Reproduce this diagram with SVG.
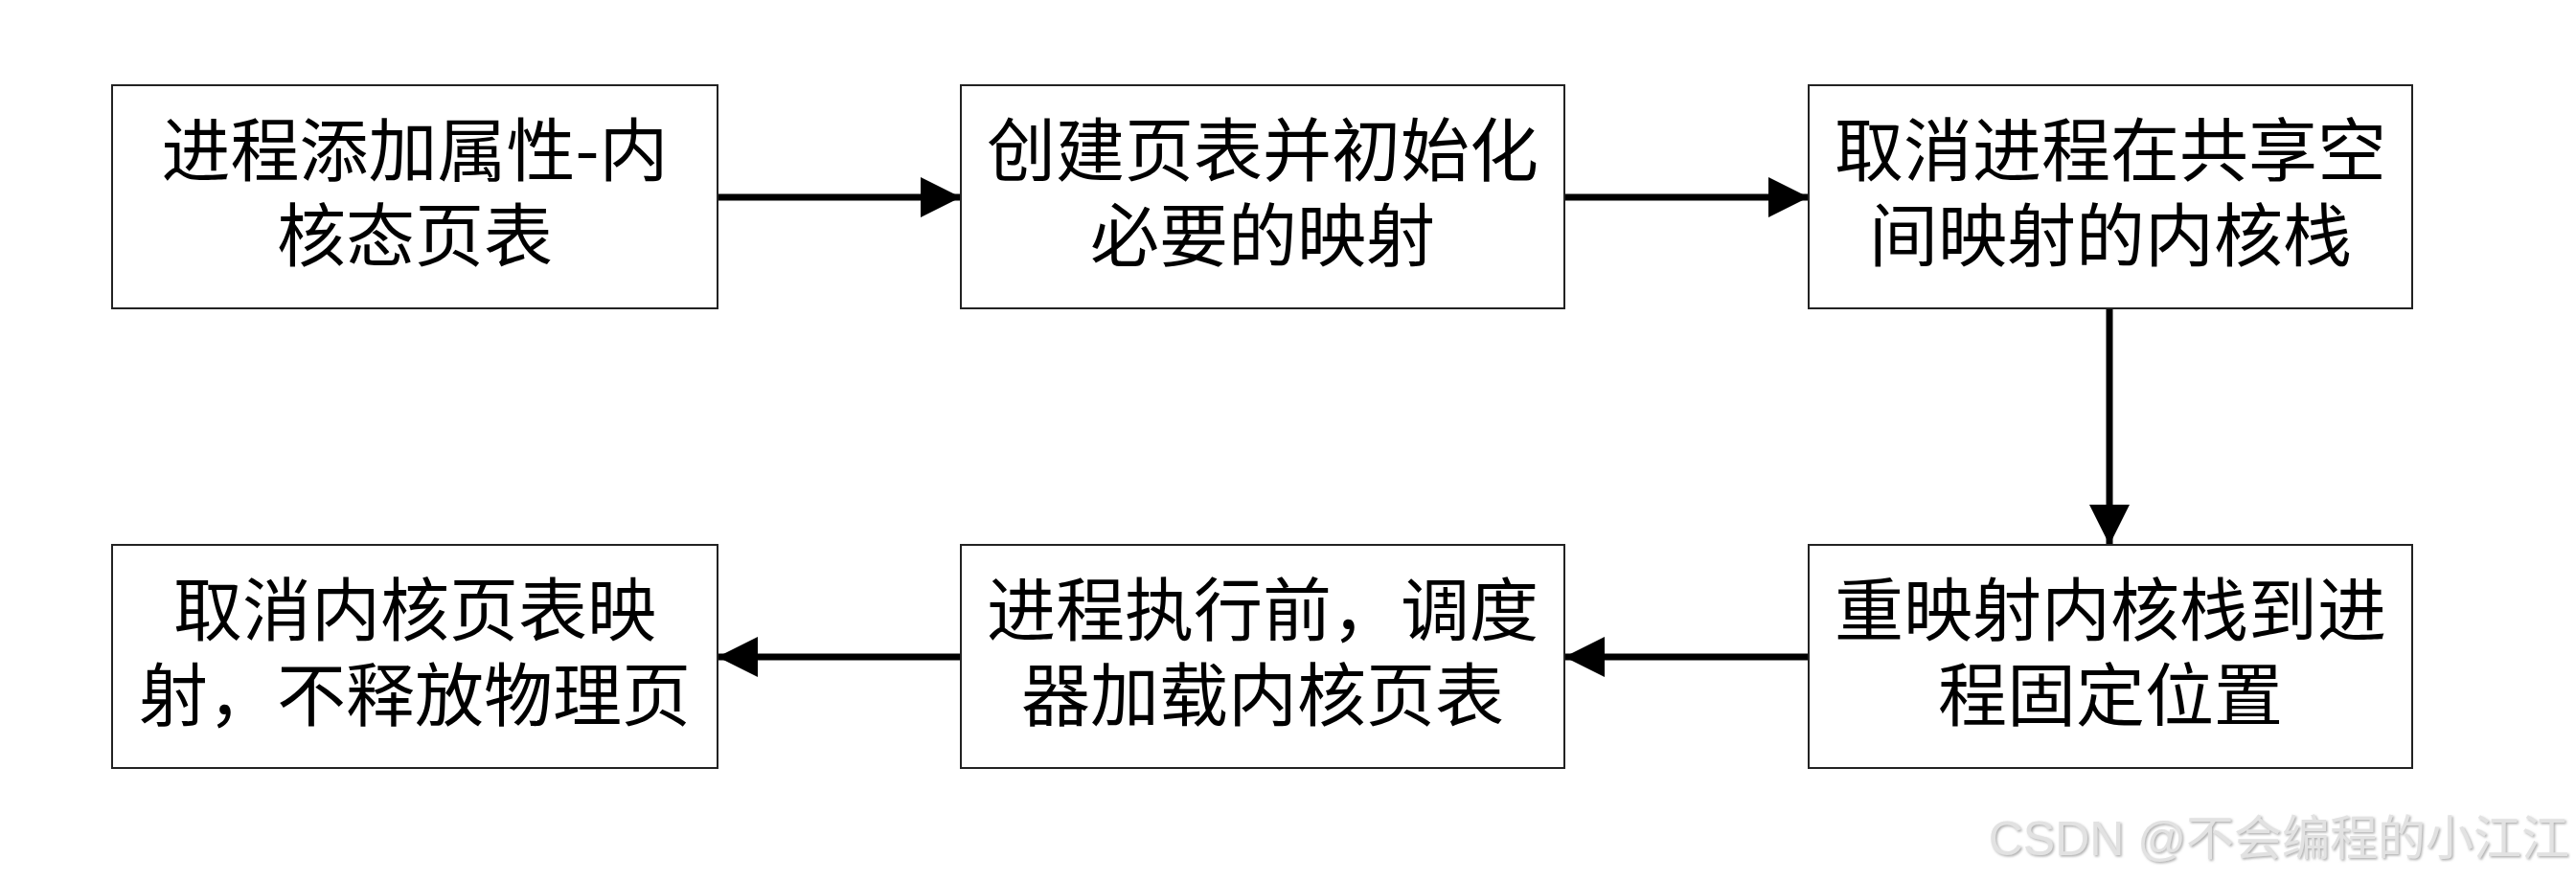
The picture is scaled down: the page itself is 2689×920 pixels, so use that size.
<svg xmlns="http://www.w3.org/2000/svg" width="2689" height="920" viewBox="0 0 2689 920">
<style>
.box{fill:#fff;stroke:#222;stroke-width:2}
.t{font-family:"Noto Sans CJK SC","Noto Sans",sans-serif;font-size:72px;fill:#000;text-anchor:middle}
.c{stroke:#000;stroke-width:7;fill:none;stroke-linecap:round;marker-end:url(#ah)}
.wm{font-family:"Liberation Sans","Noto Sans CJK SC",sans-serif;font-size:50px;fill:#e2e2e2;text-anchor:end}
</style>
<defs>
<marker id="ah" markerUnits="userSpaceOnUse" markerWidth="42" markerHeight="42" viewBox="0 0 40 40" refX="40" refY="20" orient="auto">
<path d="M0,0 L40,20 L0,40 Z" fill="#000"/>
</marker>
<filter id="sh" x="-5%" y="-20%" width="110%" height="150%">
<feDropShadow dx="1.5" dy="1.5" stdDeviation="1" flood-color="#9a9a9a" flood-opacity="0.8"/>
</filter>
</defs>
<rect width="2689" height="920" fill="#fff"/>
<g id="connectors">
<line class="c" x1="749" y1="206" x2="1003" y2="206"/>
<line class="c" x1="1633" y1="206" x2="1888" y2="206"/>
<line class="c" x1="2202" y1="322" x2="2202" y2="569"/>
<line class="c" x1="1888" y1="686" x2="1633" y2="686"/>
<line class="c" x1="1003" y1="686" x2="749" y2="686"/>
</g>
<g id="n1">
<rect class="box" x="117" y="89" width="632" height="233"/>
<text class="t" x="433" y="183">进程添加属性-内<tspan x="433" dy="89">核态页表</tspan></text>
</g>
<g id="n2">
<rect class="box" x="1003" y="89" width="630" height="233"/>
<text class="t" x="1318" y="183">创建页表并初始化<tspan x="1318" dy="89">必要的映射</tspan></text>
</g>
<g id="n3">
<rect class="box" x="1888" y="89" width="630" height="233"/>
<text class="t" x="2203" y="183">取消进程在共享空<tspan x="2203" dy="89">间映射的内核栈</tspan></text>
</g>
<g id="n4">
<rect class="box" x="1888" y="569" width="630" height="233"/>
<text class="t" x="2203" y="663">重映射内核栈到进<tspan x="2203" dy="89">程固定位置</tspan></text>
</g>
<g id="n5">
<rect class="box" x="1003" y="569" width="630" height="233"/>
<text class="t" x="1318" y="663">进程执行前，调度<tspan x="1318" dy="89">器加载内核页表</tspan></text>
</g>
<g id="n6">
<rect class="box" x="117" y="569" width="632" height="233"/>
<text class="t" x="433" y="663">取消内核页表映<tspan x="433" dy="89">射，不释放物理页</tspan></text>
</g>
<text class="wm" x="2682" y="893" filter="url(#sh)">CSDN @不会编程的小江江</text>
</svg>
